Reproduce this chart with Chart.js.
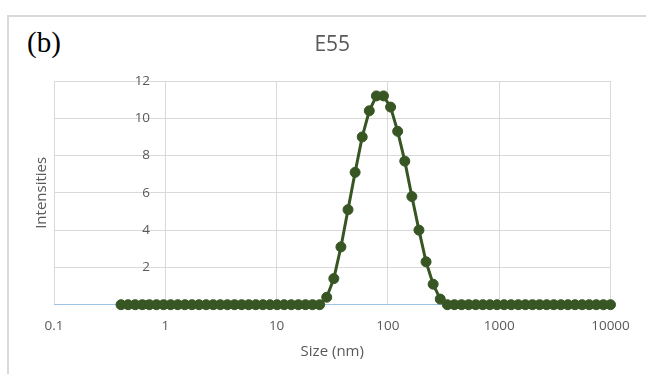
<!DOCTYPE html>
<html>
<head>
<meta charset="utf-8">
<script src="https://cdn.jsdelivr.net/npm/chart.js@4/dist/chart.umd.min.js"></script>
<style>
  html, body { margin: 0; padding: 0; background: #fff; }
  #wrap { position: relative; width: 646px; height: 374px; overflow: hidden; }
  #frame { position: absolute; left: 7px; top: 15px; width: 700px; height: 420px; border: 2px solid #d9d9d9; box-sizing: border-box; }
  #tag { position: absolute; left: 27px; top: 28px; font-family: "Liberation Serif", "Times New Roman", serif; font-size: 29px; color: #000; line-height: 1; }
  canvas { position: absolute; left: 0; top: 0; }
</style>
</head>
<body>
<div id="wrap">
  <div id="frame"></div>
  <div id="tag">(b)</div>
  <canvas id="chart" width="646" height="374"></canvas>
</div>
<script>
// size bins (nm)
const sizes = [0.4, 0.4632, 0.5365, 0.6213, 0.7195, 0.8332, 0.9649,
  1.117, 1.294, 1.499, 1.736, 2.010, 2.328, 2.696, 3.122, 3.615, 4.187, 4.849, 5.615, 6.503, 7.531, 8.721,
  10.10, 11.70, 13.54, 15.69, 18.17, 21.04, 24.36, 28.21, 32.67, 37.84, 43.82, 50.75, 58.77, 68.06, 78.82, 91.28,
  105.7, 122.4, 141.8, 164.2, 190.1, 220.2, 255.0, 295.3, 342.0, 396.1, 458.7, 531.2, 615.1, 712.4, 825.0, 955.4,
  1106, 1281, 1484, 1718, 1990, 2305, 2669, 3091, 3580, 4145, 4801, 5560, 6439, 7456, 8635, 10000];

// intensity (%)
const intensities = [0, 0, 0, 0, 0, 0, 0,
  0, 0, 0, 0, 0, 0, 0, 0, 0, 0, 0, 0, 0, 0, 0,
  0, 0, 0, 0, 0, 0, 0, 0.4, 1.4, 3.1, 5.1, 7.1, 9.0, 10.4, 11.2, 11.2,
  10.6, 9.3, 7.7, 5.8, 4.0, 2.3, 1.1, 0.3, 0, 0, 0, 0, 0, 0, 0, 0,
  0, 0, 0, 0, 0, 0, 0, 0, 0, 0, 0, 0, 0, 0, 0, 0];

const xTicks = [0.1, 1, 10, 100, 1000, 10000];
const xTickLabels = ['0.1', '1', '10', '100', '1000', '10000'];
const yMin = 0, yMax = 12, yStep = 2;

const green = '#375623';
const grey = '#595959';
const gridGrey = '#d9d9d9';
const font = '"Open Sans", "Noto Sans", sans-serif';

new Chart(document.getElementById('chart'), {
  type: 'line',
  data: {
    datasets: [{
      label: 'E55',
      data: sizes.map((s, i) => ({ x: s, y: intensities[i] })),
      borderColor: green,
      backgroundColor: green,
      borderWidth: 3,
      pointRadius: 5,
      pointBorderWidth: 1,
      pointBackgroundColor: green,
      pointBorderColor: green,
      tension: 0,
      clip: false,
    }],
  },
  options: {
    responsive: false,
    animation: false,
    layout: { padding: { left: 28, right: 35.5, top: 0, bottom: 10 } },
    plugins: {
      legend: { display: false },
      tooltip: { enabled: false },
      title: {
        display: true,
        text: 'E55',
        fullSize: false,
        color: grey,
        font: { family: font, size: 21, weight: 'normal' },
        padding: { top: 32.4, bottom: 23.4 },
      },
    },
    scales: {
      x: {
        type: 'logarithmic',
        min: 0.1,
        max: 10000,
        afterBuildTicks: (scale) => { scale.ticks = xTicks.map(v => ({ value: v })); },
        ticks: {
          padding: 13.2,
          color: grey,
          font: { family: font, size: 13.5 },
          autoSkip: false,
          maxRotation: 0,
          callback: (v, i) => xTickLabels[i],
        },
        grid: { color: gridGrey, drawTicks: false },
        border: { color: '#9dc3e6', width: 1 },
        title: {
          display: true,
          text: 'Size (nm)',
          color: grey,
          font: { family: font, size: 15 },
          padding: { top: -4.3, bottom: 3 },
        },
      },
      y: {
        position: { x: 0.73 },
        min: yMin,
        max: yMax,
        ticks: {
          stepSize: yStep,
          color: grey,
          font: { family: font, size: 13.5 },
        },
        grid: {
          drawTicks: false,
          color: (ctx) => (ctx.tick && ctx.tick.value === 0 ? 'rgba(0,0,0,0)' : gridGrey),
        },
        border: { display: false },
      },
      yTitle: {
        axis: 'y',
        type: 'linear',
        position: 'left',
        ticks: { display: false },
        grid: { display: false, drawTicks: false },
        border: { display: false },
        title: {
          display: true,
          text: 'Intensities',
          color: grey,
          font: { family: font, size: 15 },
          padding: { top: 5, bottom: 3 },
        },
      },
    },
  },
});
</script>
</body>
</html>
